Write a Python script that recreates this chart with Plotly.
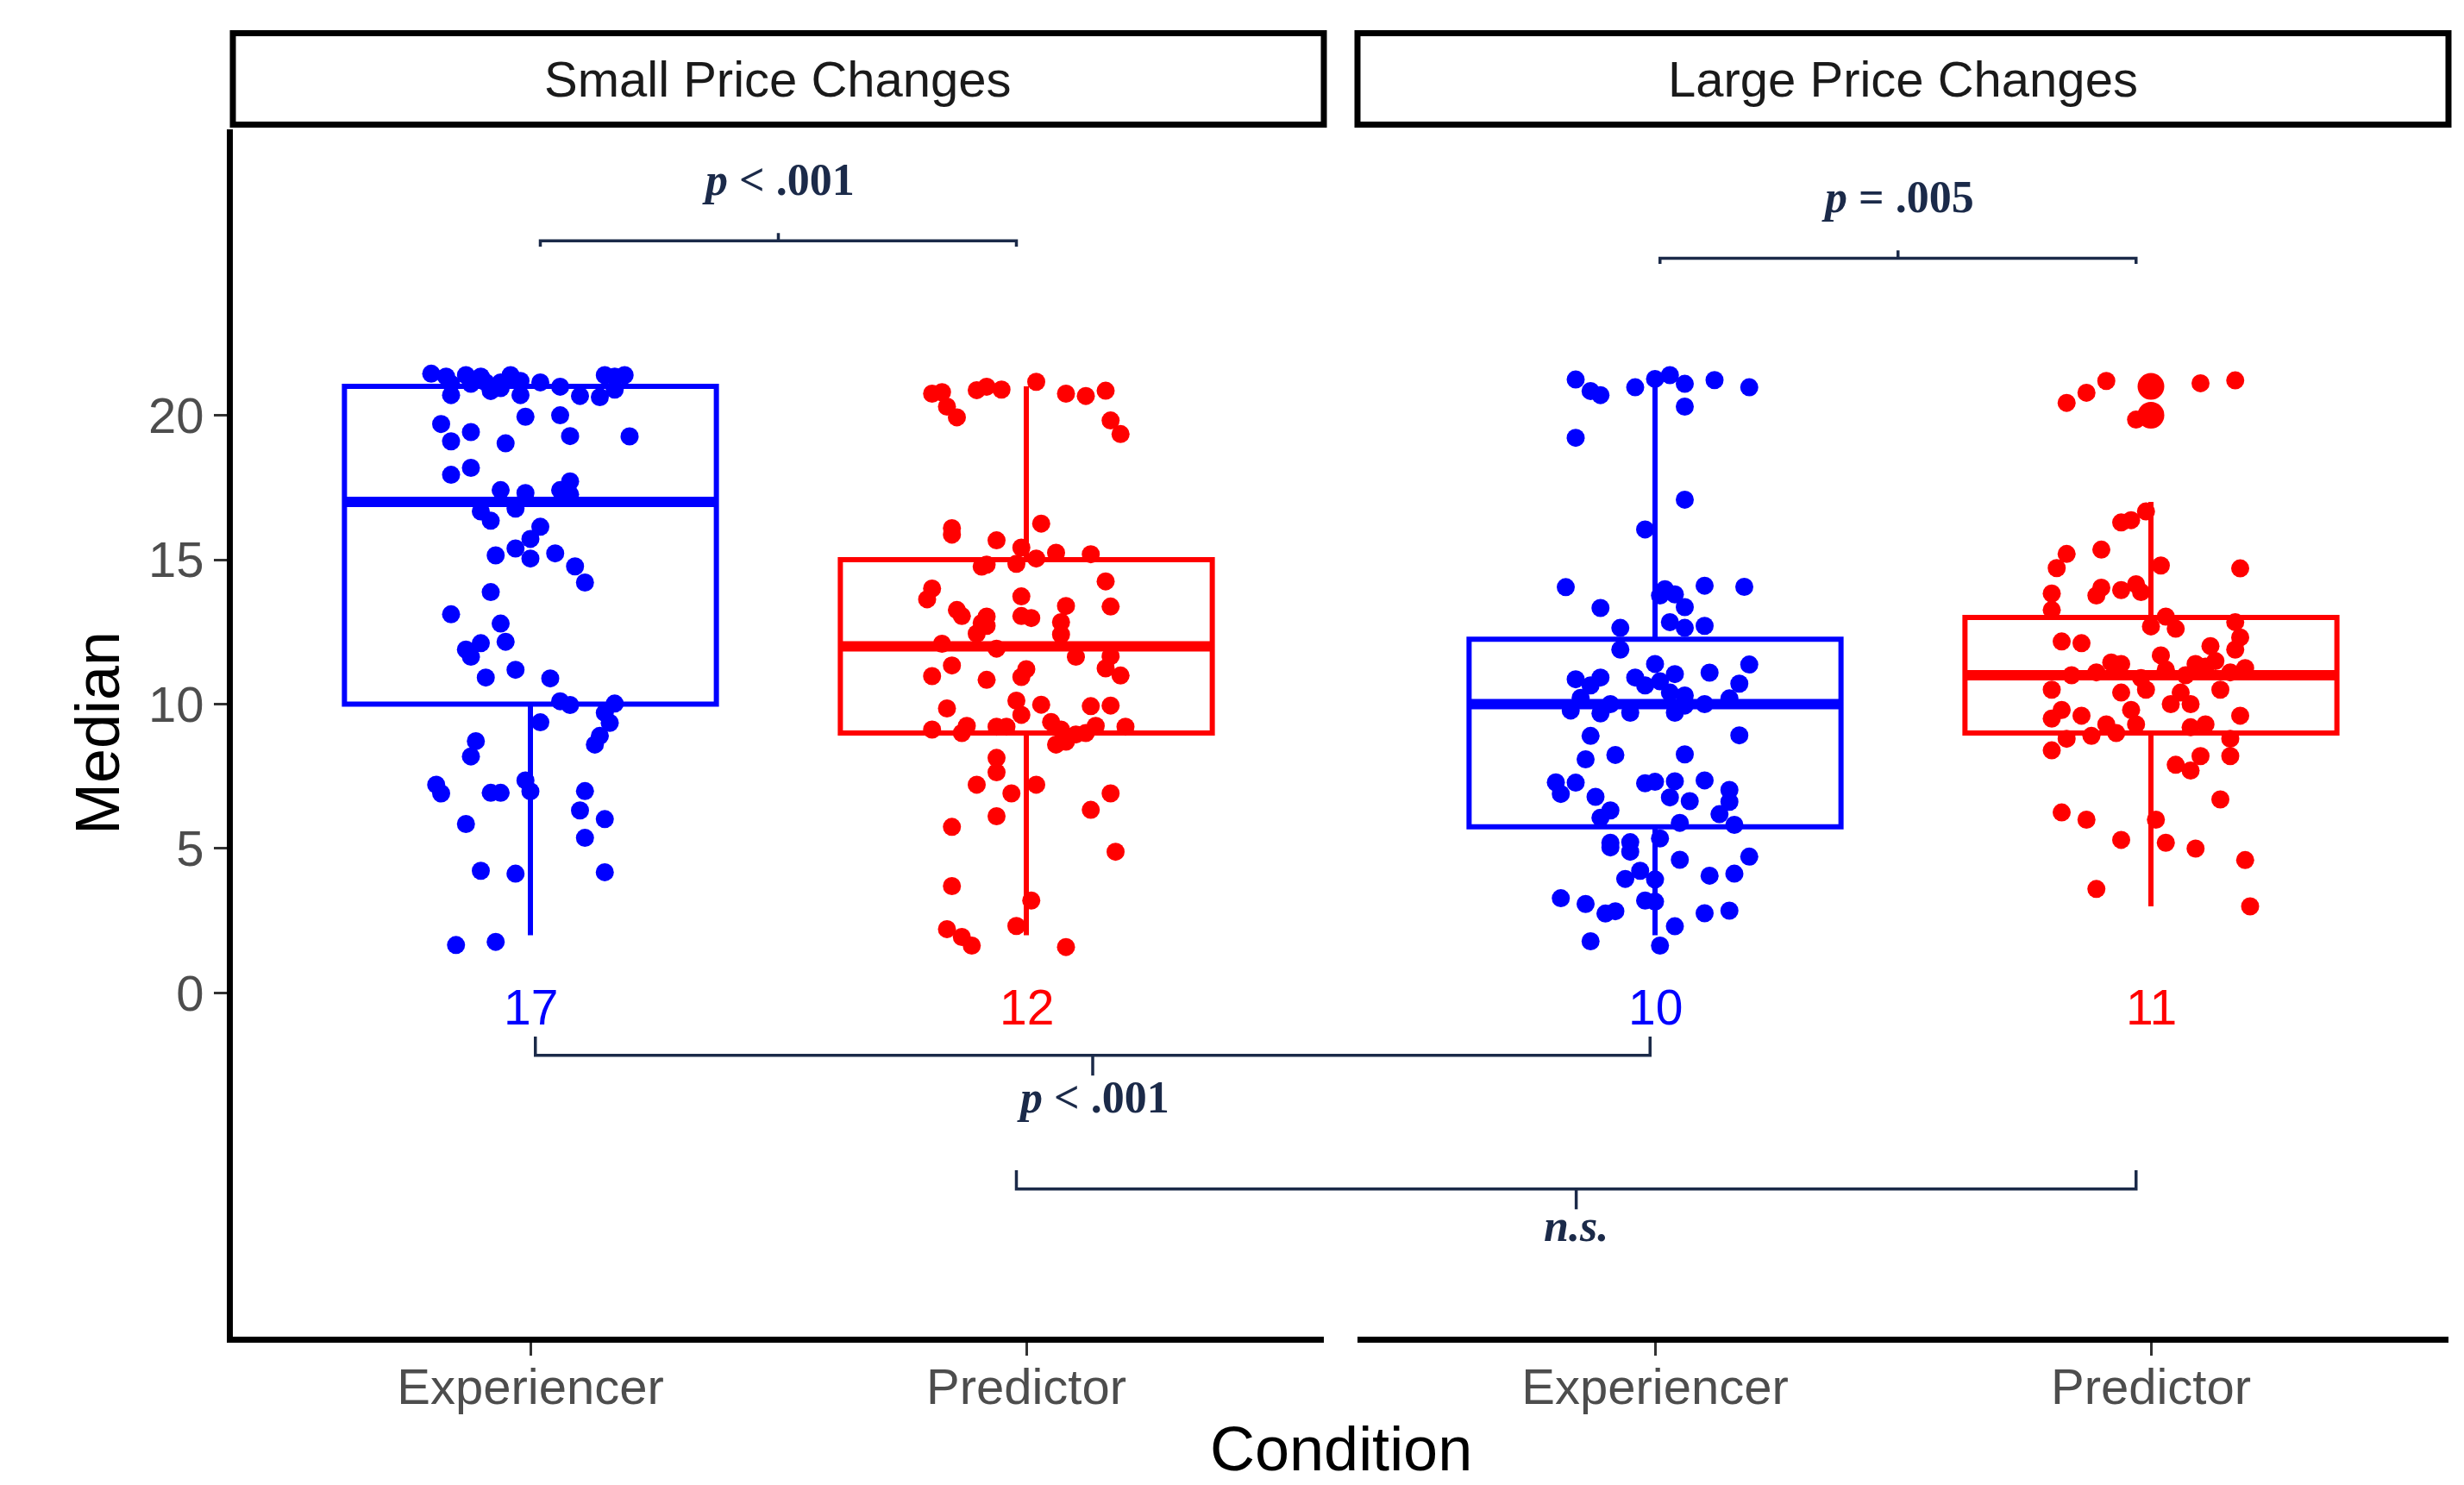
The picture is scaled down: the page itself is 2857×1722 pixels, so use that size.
import plotly.graph_objects as go

# ---------------------------------------------------------------- data
panels = ["Small Price Changes", "Large Price Changes"]
conditions = ["Experiencer", "Predictor"]
cond_colors = ["#0000FF", "#FF0000"]

# box-plot statistics, ordered [Small-Exp, Small-Pred, Large-Exp, Large-Pred]
box_q1 = [10, 9, 5.75, 9]
box_median = [17, 12, 10, 11]
box_q3 = [21, 15, 12.25, 13]
box_lower = [2, 2, 2, 3]
box_upper = [21, 21, 21, 17]

# outliers flagged by the Large / Predictor box plot
large_pred_outliers = [21, 20]

# jittered participant medians (value, horizontal jitter in category units)
small_exp_y = [
    21.44, 21.34, 21.09, 20.70, 21.39, 21.09, 21.34, 21.14, 20.84, 21.14,
    20.94, 21.39, 21.19, 20.70, 21.14, 20.99, 20.67, 20.63, 21.39, 20.89,
    21.39, 21.34, 19.70, 19.42, 19.10, 19.03, 19.95, 20.00, 19.28, 19.27,
    17.94, 18.18, 17.41, 17.31, 17.71, 17.41, 17.26, 16.67, 16.35, 16.77,
    16.14, 15.72, 15.39, 15.04, 15.22, 15.15, 14.77, 14.21, 13.88, 13.11,
    12.79, 12.11, 11.89, 11.64, 12.16, 11.19, 10.92, 10.89, 10.10, 9.97,
    10.02, 9.70, 9.35, 9.37, 8.90, 8.60, 8.72, 8.19, 7.21, 6.91,
    6.93, 6.93, 7.36, 6.98, 6.99, 6.32, 6.02, 5.37, 5.85, 4.23,
    4.13, 4.18, 1.66, 1.77,
]
small_exp_dx = [
    -0.20, -0.17, -0.16, -0.16, -0.13, -0.12, -0.10, -0.09, -0.08, -0.06,
    -0.06, -0.04, -0.02, -0.02, 0.02, 0.06, 0.10, 0.14, 0.15, 0.17,
    0.19, 0.17, -0.18, -0.12, -0.16, -0.05, -0.01, 0.06, 0.08, 0.20,
    -0.16, -0.12, -0.06, -0.01, 0.08, 0.06, 0.08, -0.10, -0.08, -0.03,
    0.02, 0.00, -0.03, 0.00, 0.05, -0.07, 0.09, 0.11, -0.08, -0.16,
    -0.06, -0.10, -0.13, -0.12, -0.05, -0.03, -0.09, 0.04, 0.06, 0.08,
    0.17, 0.15, 0.16, 0.02, 0.14, 0.13, -0.11, -0.12, -0.19, -0.18,
    -0.08, -0.06, -0.01, 0.00, 0.11, 0.10, 0.15, 0.11, -0.13, -0.10,
    -0.03, 0.15, -0.15, -0.07,
]

small_pred_y = [
    20.75, 20.80, 20.30, 19.93, 20.87, 20.99, 20.89, 21.16, 20.75, 20.67,
    20.85, 19.82, 19.35, 15.87, 16.09, 15.67, 16.25, 15.42, 15.04, 15.24,
    15.19, 14.76, 14.83, 14.86, 14.00, 13.63, 13.26, 13.05, 13.03, 12.81,
    12.71, 12.44, 13.73, 13.05, 12.98, 13.40, 12.84, 12.41, 14.25, 13.38,
    12.09, 11.92, 11.34, 10.97, 10.84, 11.21, 10.94, 11.64, 11.66, 11.24,
    10.99, 9.85, 10.12, 9.63, 9.98, 9.93, 9.95, 9.12, 9.25, 9.00,
    9.22, 9.22, 9.38, 9.12, 8.60, 8.70, 8.95, 9.00, 9.25, 9.22,
    8.14, 7.64, 7.21, 6.91, 7.21, 6.12, 5.75, 6.91, 6.34, 4.89,
    3.70, 3.20, 2.21, 1.94, 1.64, 2.32, 1.59,
]
small_pred_dx = [
    -0.19, -0.17, -0.16, -0.14, -0.10, -0.08, -0.05, 0.02, 0.08, 0.12,
    0.16, 0.17, 0.19, -0.15, -0.15, -0.06, 0.03, -0.01, 0.02, 0.06,
    0.13, -0.09, -0.08, -0.02, -0.19, -0.20, -0.14, -0.13, -0.08, -0.09,
    -0.08, -0.10, -0.01, -0.01, 0.01, 0.08, 0.07, 0.07, 0.16, 0.17,
    -0.17, -0.06, -0.15, -0.19, -0.08, 0.00, -0.01, 0.10, 0.17, 0.16,
    0.19, -0.16, -0.02, -0.01, 0.03, 0.13, 0.17, -0.19, -0.12, -0.13,
    -0.06, -0.04, 0.05, 0.07, 0.06, 0.08, 0.10, 0.12, 0.14, 0.20,
    -0.06, -0.06, -0.10, -0.03, 0.02, -0.06, -0.15, 0.17, 0.13, 0.18,
    -0.15, 0.01, -0.16, -0.13, -0.11, -0.02, 0.08,
]

large_exp_y = [
    21.24, 20.84, 20.70, 20.97, 21.26, 21.39, 21.09, 20.30, 21.22, 20.97,
    19.22, 17.08, 16.05, 14.05, 13.98, 13.76, 13.80, 13.36, 14.10, 14.06,
    13.33, 12.84, 12.64, 12.71, 12.64, 11.89, 11.39, 11.37, 10.86, 10.92,
    10.65, 10.92, 10.65, 10.79, 11.04, 11.09, 10.71, 10.20, 10.22, 9.78,
    9.68, 10.00, 9.70, 9.70, 10.40, 10.30, 9.95, 10.00, 8.90, 8.92,
    8.09, 8.24, 8.26, 7.29, 7.28, 6.89, 6.79, 6.32, 6.07, 7.26,
    7.31, 7.33, 6.77, 6.64, 7.36, 7.03, 6.62, 6.19, 5.82, 5.89,
    5.20, 5.04, 5.22, 4.89, 5.35, 4.61, 4.72, 4.13, 4.06, 3.95,
    4.23, 3.93, 3.20, 3.16, 3.28, 3.08, 2.75, 2.83, 2.76, 2.85,
    2.31, 1.79, 1.64,
]
large_exp_dx = [
    -0.16, -0.13, -0.11, -0.04, 0.00, 0.03, 0.06, 0.06, 0.12, 0.19,
    -0.16, 0.06, -0.02, -0.18, 0.02, 0.01, 0.04, 0.06, 0.10, 0.18,
    -0.11, 0.03, 0.06, 0.10, -0.07, -0.07, 0.00, 0.19, -0.16, -0.11,
    -0.13, -0.04, -0.02, 0.01, 0.04, 0.11, 0.17, 0.15, -0.15, -0.17,
    -0.11, -0.09, -0.05, 0.04, 0.03, 0.06, 0.06, 0.10, -0.13, 0.17,
    -0.14, -0.08, 0.06, -0.20, -0.16, -0.19, -0.12, -0.09, -0.11, -0.02,
    0.00, 0.04, 0.03, 0.07, 0.10, 0.15, 0.15, 0.13, 0.16, 0.05,
    -0.09, -0.09, -0.05, -0.05, 0.01, 0.05, 0.19, 0.16, 0.11, -0.06,
    -0.03, 0.00, -0.02, 0.00, -0.19, -0.14, -0.10, -0.08, 0.10, 0.15,
    0.04, -0.13, 0.01,
]

large_pred_y = [
    20.43, 20.78, 21.19, 19.85, 21.11, 21.21, 16.29, 16.37, 16.67, 15.20,
    14.71, 15.35, 14.80, 14.70, 13.83, 13.26, 14.03, 13.76, 13.95, 14.15,
    13.88, 13.03, 12.69, 12.61, 12.84, 12.31, 12.17, 12.11, 12.01, 11.89,
    11.69, 11.44, 11.39, 11.39, 11.49, 11.00, 11.10, 10.90, 11.20, 11.00,
    11.30, 11.10, 10.50, 10.40, 10.50, 10.40, 10.50, 11.25, 9.80, 9.60,
    9.30, 9.80, 10.00, 10.00, 9.30, 9.60, 9.50, 9.20, 8.40, 8.80,
    8.90, 9.00, 9.30, 7.90, 7.70, 8.20, 8.20, 8.80, 6.25, 6.00,
    5.30, 5.20, 6.00, 5.00, 6.70, 3.60, 4.60, 3.00,
]
large_pred_dx = [
    -0.17, -0.13, -0.09, -0.03, 0.10, 0.17, -0.06, -0.04, -0.01, -0.17,
    -0.19, -0.10, 0.02, 0.18, -0.20, -0.20, -0.10, -0.11, -0.06, -0.03,
    -0.02, 0.03, 0.00, 0.05, 0.17, 0.18, -0.18, -0.14, 0.12, 0.17,
    0.02, -0.08, -0.06, 0.09, 0.13, -0.16, -0.11, -0.02, 0.03, 0.07,
    0.11, 0.16, 0.14, 0.06, -0.20, -0.06, -0.01, 0.19, -0.18, -0.14,
    -0.09, -0.04, 0.04, 0.08, 0.11, 0.18, -0.20, 0.08, -0.20, -0.17,
    -0.12, -0.07, -0.03, 0.05, 0.08, 0.10, 0.16, 0.16, -0.18, -0.13,
    -0.06, 0.03, 0.01, 0.09, 0.14, -0.11, 0.19, 0.20,
]

# significance brackets: (panel, condition) at each end, bracket height,
# label height, label text
sig_from = [(0, 0), (1, 0), (0, 0), (0, 1)]
sig_to = [(0, 1), (1, 1), (1, 0), (1, 1)]
sig_end_inset = [(0.02, -0.02), (0.01, -0.03), (0.01, -0.01), (-0.02, -0.03)]
sig_height = [26.04, 25.44, -2.16, -6.79]
sig_label_y = [28.15, 27.55, -3.6, -8.05]
sig_labels = ["<i>p</i> < .001", "<i>p</i> = .005", "<i>p</i> < .001", "<i>n.s.</i>"]

# ---------------------------------------------------------------- layout geometry (pixels)
W, H = 2857, 1722
PANEL_X = [(270, 1535), (1574, 2839)]
PANEL_TOP, PANEL_BOTTOM = 150, 1550
STRIP_TOP, STRIP_BOTTOM = 38.5, 144.5
X_RANGE = [0.4, 2.6]
Y_RANGE = [-11.9, 29.9]
UNIT_PX = (PANEL_X[0][1] - PANEL_X[0][0]) / (X_RANGE[1] - X_RANGE[0])

SANS = "Liberation Sans"
SERIF = "Liberation Serif"
NAVY = "#1B2A49"


def px_x(v):
    return v / W


def px_y(v):
    return 1 - v / H


y_domain = [px_y(PANEL_BOTTOM), px_y(PANEL_TOP)]

fig = go.Figure()

groups = [
    (0, 0, small_exp_y, small_exp_dx),
    (0, 1, small_pred_y, small_pred_dx),
    (1, 0, large_exp_y, large_exp_dx),
    (1, 1, large_pred_y, large_pred_dx),
]

for gi, (p, c, ys, dxs) in enumerate(groups):
    xa = "x" if p == 0 else "x2"
    ya = "y" if p == 0 else "y2"
    pos = c + 1
    col = cond_colors[c]
    fig.add_trace(go.Box(
        x=[pos], q1=[box_q1[gi]], median=[box_median[gi]], q3=[box_q3[gi]],
        lowerfence=[box_lower[gi]], upperfence=[box_upper[gi]],
        width=0.75, whiskerwidth=0, boxpoints=False, orientation="v",
        line=dict(color=col, width=6), fillcolor="rgba(0,0,0,0)",
        xaxis=xa, yaxis=ya, showlegend=False, hoverinfo="skip",
    ))
    # thicker median bar
    fig.add_trace(go.Scatter(
        x=[pos - 0.375, pos + 0.375], y=[box_median[gi]] * 2, mode="lines",
        line=dict(color=col, width=12), xaxis=xa, yaxis=ya,
        showlegend=False, hoverinfo="skip",
    ))
    if p == 1 and c == 1:
        fig.add_trace(go.Scatter(
            x=[pos] * len(large_pred_outliers), y=large_pred_outliers,
            mode="markers", marker=dict(color=col, size=31),
            xaxis=xa, yaxis=ya, showlegend=False, hoverinfo="skip",
        ))
    fig.add_trace(go.Scatter(
        x=[pos + d for d in dxs], y=ys, mode="markers",
        marker=dict(color=col, size=21, line=dict(width=0)),
        xaxis=xa, yaxis=ya, showlegend=False, hoverinfo="skip",
    ))
    # median value printed under each box
    fig.add_annotation(
        x=pos, y=-0.5, xref=xa, yref=ya, text=f"{box_median[gi]:g}",
        showarrow=False, font=dict(family=SANS, size=57, color=col),
        xanchor="center", yanchor="middle",
    )

# overlay axis spanning both panels, used for the comparison brackets
x3_range = [X_RANGE[0], X_RANGE[0] + (PANEL_X[1][1] - PANEL_X[0][0]) / UNIT_PX]
panel_shift = (PANEL_X[1][0] - PANEL_X[0][0]) / UNIT_PX


def x3_pos(p, c):
    return c + 1 + p * panel_shift


for i in range(len(sig_labels)):
    x0 = x3_pos(*sig_from[i]) + sig_end_inset[i][0]
    x1 = x3_pos(*sig_to[i]) + sig_end_inset[i][1]
    yb = sig_height[i]
    above = sig_label_y[i] > yb
    end_tip = -0.2 if above else 0.65
    mid_tip = 0.27 if above else -0.7
    xm = (x0 + x1) / 2
    fig.add_trace(go.Scatter(
        x=[x0, x0, x1, x1, None, xm, xm],
        y=[yb + end_tip, yb, yb, yb + end_tip, None, yb, yb + mid_tip],
        mode="lines", line=dict(color=NAVY, width=3.5),
        xaxis="x3", yaxis="y3", showlegend=False, hoverinfo="skip",
    ))
    fig.add_annotation(
        x=xm, y=sig_label_y[i], xref="x3", yref="y3",
        text=f"<b>{sig_labels[i]}</b>", showarrow=False,
        font=dict(family=SERIF, size=52, color=NAVY),
        xanchor="center", yanchor="middle",
    )

axis_common = dict(
    showgrid=False, zeroline=False, showline=True, linecolor="black",
    linewidth=7, ticks="outside", ticklen=15, tickwidth=3, tickcolor="#333333",
    tickfont=dict(family=SANS, size=58, color="#4D4D4D"), automargin=False,
    fixedrange=True,
)

fig.update_layout(
    width=W, height=H, margin=dict(l=0, r=0, t=0, b=0),
    paper_bgcolor="white", plot_bgcolor="rgba(0,0,0,0)", boxmode="overlay",
    xaxis=dict(domain=[px_x(PANEL_X[0][0]), px_x(PANEL_X[0][1])], range=X_RANGE,
               anchor="y", tickvals=[1, 2], ticktext=conditions,
               ticklabelstandoff=-14, **axis_common),
    xaxis2=dict(domain=[px_x(PANEL_X[1][0]), px_x(PANEL_X[1][1])], range=X_RANGE,
                anchor="y2", tickvals=[1, 2], ticktext=conditions,
                ticklabelstandoff=-14, **axis_common),
    yaxis=dict(domain=y_domain, range=Y_RANGE, anchor="x",
               tickvals=[0, 5, 10, 15, 20], **axis_common),
    yaxis2=dict(domain=y_domain, range=Y_RANGE, anchor="x2", visible=False,
                fixedrange=True),
    xaxis3=dict(domain=[px_x(PANEL_X[0][0]), px_x(PANEL_X[1][1])], range=x3_range,
                anchor="y3", visible=False, fixedrange=True),
    yaxis3=dict(domain=y_domain, range=Y_RANGE, anchor="x3", visible=False,
                fixedrange=True),
)

# facet strips
for p, (xl, xr) in enumerate(PANEL_X):
    fig.add_shape(type="rect", xref="paper", yref="paper",
                  x0=px_x(xl), x1=px_x(xr), y0=px_y(STRIP_BOTTOM), y1=px_y(STRIP_TOP),
                  line=dict(color="black", width=7), fillcolor="white")
    fig.add_annotation(
        x=px_x((xl + xr) / 2), y=px_y((STRIP_TOP + STRIP_BOTTOM) / 2),
        xref="paper", yref="paper", text=panels[p], showarrow=False,
        font=dict(family=SANS, size=58, color="#1A1A1A"),
        xanchor="center", yanchor="middle",
    )

# axis titles
fig.add_annotation(x=px_x(113), y=px_y((PANEL_TOP + PANEL_BOTTOM) / 2),
                   xref="paper", yref="paper", text="Median", textangle=-90,
                   showarrow=False, font=dict(family=SANS, size=72, color="black"),
                   xanchor="center", yanchor="middle")
fig.add_annotation(x=px_x((PANEL_X[0][0] + PANEL_X[1][1]) / 2), y=0,
                   xref="paper", yref="paper", text="Condition",
                   showarrow=False, font=dict(family=SANS, size=72, color="black"),
                   xanchor="center", yanchor="bottom")

fig.write_html("out.html")
